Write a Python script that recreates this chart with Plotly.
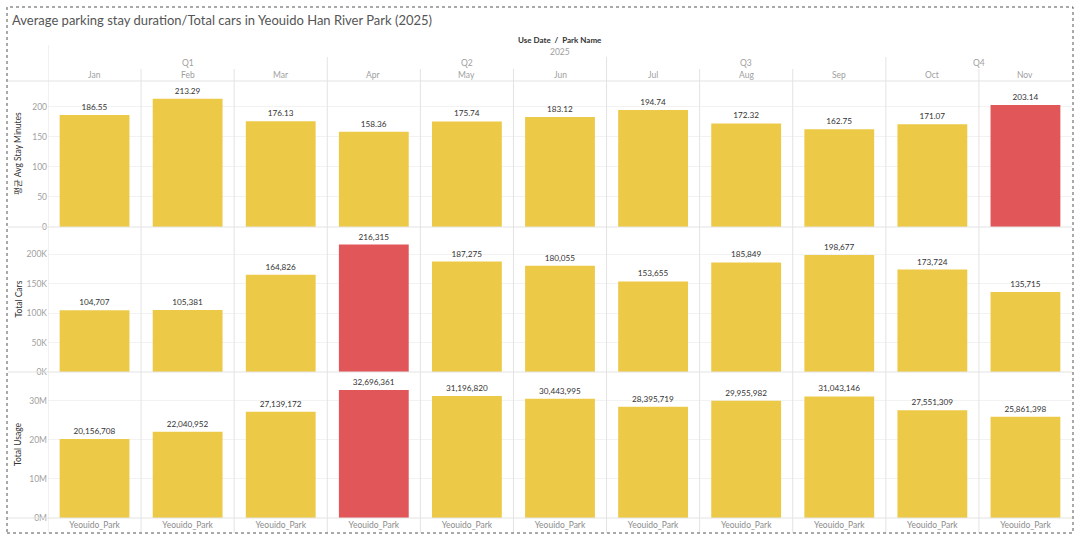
import plotly.graph_objects as go

# data
months = ["Jan", "Feb", "Mar", "Apr", "May", "Jun", "Jul", "Aug", "Sep", "Oct", "Nov"]
quarters = ["Q1", "Q1", "Q1", "Q2", "Q2", "Q2", "Q3", "Q3", "Q3", "Q4", "Q4"]
park_names = ["Yeouido_Park"] * 11
year = "2025"

avg_stay = [186.55, 213.29, 176.13, 158.36, 175.74, 183.12, 194.74, 172.32, 162.75, 171.07, 203.14]
total_cars = [104707, 105381, 164826, 216315, 187275, 180055, 153655, 185849, 198677, 173724, 135715]
total_usage = [20156708, 22040952, 27139172, 32696361, 31196820, 30443995, 28395719, 29955982,
               31043146, 27551309, 25861398]

# which bar is highlighted red in each row
hl_stay = ["Nov"]
hl_cars = ["Apr"]
hl_usage = ["Apr"]

YELLOW = "#EDC948"
RED = "#E15759"
GRID = "#e3e3e3"
W, H = 1080, 539
FONT = "Lato, Noto Sans CJK KR, sans-serif"


def py(px):
    # pixel row -> paper y
    return 1 - px / H


def label(x, y, text, size=8.5, color="#a0a0a0", xref="paper", **kw):
    d = dict(x=x, y=y, xref=xref, yref="paper", text=text, showarrow=False,
             xanchor="center", yanchor="middle", font=dict(size=size, color=color, family=FONT))
    d.update(kw)
    return d


rows = [
    dict(vals=avg_stay, hl=hl_stay, title="평균 Avg Stay Minutes", top=81, bot=227, rng=243,
         ticks=[0, 50, 100, 150, 200], text=[str(v) for v in [0, 50, 100, 150, 200]], fmt="%{y:.2f}"),
    dict(vals=total_cars, hl=hl_cars, title="Total Cars", top=227, bot=372, rng=246000,
         ticks=[0, 50000, 100000, 150000, 200000], text=None, fmt="%{y:,}"),
    dict(vals=total_usage, hl=hl_usage, title="Total Usage", top=372, bot=518, rng=37.3e6,
         ticks=[0, 10e6, 20e6, 30e6], text=None, fmt="%{y:,}"),
]
rows[1]["text"] = [f"{int(v / 1000)}K" for v in rows[1]["ticks"]]
rows[2]["text"] = [f"{int(v / 1e6)}M" for v in rows[2]["ticks"]]

fig = go.Figure()
x_idx = list(range(len(months)))
x_dom = [48 / W, 1072 / W]
annotations = []

for i, r in enumerate(rows):
    n = "" if i == 0 else str(i + 1)
    colors = [RED if m in r["hl"] else YELLOW for m in months]
    fig.add_trace(go.Bar(
        x=x_idx, y=r["vals"], xaxis="x" + n, yaxis="y" + n,
        marker=dict(color=colors, line=dict(width=0)), width=0.75,
        texttemplate=r["fmt"], textposition="outside", cliponaxis=False,
        constraintext="none", textfont=dict(size=8.2, color="#333333", family=FONT),
        showlegend=False, hoverinfo="x+y",
    ))
    fig.layout["xaxis" + n] = dict(
        domain=x_dom, range=[-0.5, len(months) - 0.5], anchor="y" + n, automargin=False,
        showgrid=False, zeroline=False, showline=False,
        tickvals=x_idx, ticktext=park_names if i == 2 else None,
        showticklabels=(i == 2), ticks="",
        tickfont=dict(size=8.5, color="#8c8c8c", family=FONT),
    )
    fig.layout["yaxis" + n] = dict(
        domain=[py(r["bot"]), py(r["top"])], range=[0, r["rng"]], anchor="x" + n,
        automargin=False, tickvals=r["ticks"], ticktext=r["text"],
        showgrid=True, gridcolor="#f2f2f2", zeroline=False, showline=False, ticks="",
        tickfont=dict(size=8.5, color="#a0a0a0", family=FONT),
    )
    annotations.append(label(18 / W, py((r["top"] + r["bot"]) / 2), r["title"],
                             color="#333333", textangle=-90))

# header texts
annotations.append(label(10 / W, py(20),
                         "Average parking stay duration/Total cars in Yeouido Han River Park (2025)",
                         size=13, color="#555555", xanchor="left"))
mid = (len(months) - 1) / 2
annotations.append(label(mid, py(40), "<b>Use Date  /  Park Name</b>", size=8, color="#333333", xref="x"))
annotations.append(label(mid, py(52), year, xref="x"))
for q in dict.fromkeys(quarters):
    idx = [k for k, qq in enumerate(quarters) if qq == q]
    annotations.append(label(sum(idx) / len(idx), py(63), q, xref="x"))
for k, m in enumerate(months):
    annotations.append(label(k, py(75), m, xref="x"))

# table lines
shapes = []
for k in range(len(months)):
    if k == 0:
        top = 45
    elif quarters[k] != quarters[k - 1]:
        top = 57
    else:
        top = 69
    shapes.append(dict(type="line", xref="x", yref="paper", x0=k - 0.5, x1=k - 0.5,
                       y0=py(533), y1=py(top), line=dict(color=GRID, width=1)))
for ypx in [81, 227, 372, 518]:
    shapes.append(dict(type="line", xref="paper", yref="paper", x0=8 / W, x1=1072 / W,
                       y0=py(ypx), y1=py(ypx), line=dict(color=GRID, width=1)))
shapes.append(dict(type="rect", xref="paper", yref="paper", x0=7 / W, x1=1073 / W,
                   y0=py(533), y1=py(7), line=dict(color="#555555", width=1, dash="dot")))

fig.update_layout(
    width=W, height=H, margin=dict(l=0, r=0, t=0, b=0, autoexpand=False),
    paper_bgcolor="white", plot_bgcolor="white",
    annotations=annotations, shapes=shapes, bargap=0.25,
    font=dict(family=FONT),
)

# drop the browser's default body margin so the figure fills the window
fig.write_html("out.html", config={"displayModeBar": False},
               post_script="document.body.style.margin='0';")
